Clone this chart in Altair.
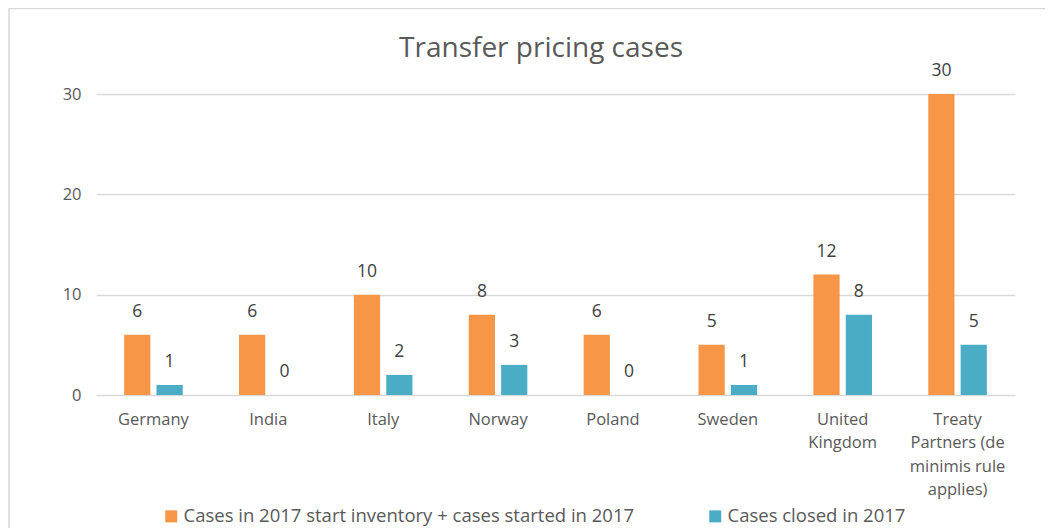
import altair as alt
import pandas as pd

countries = ["Germany", "India", "Italy", "Norway", "Poland", "Sweden",
             "United Kingdom", "Treaty Partners (de minimis rule applies)"]
series = ["Cases in 2017 start inventory + cases started in 2017", "Cases closed in 2017"]
started = [6, 6, 10, 8, 6, 5, 12, 30]
closed = [1, 0, 2, 3, 0, 1, 8, 5]
colors = ["#F79646", "#4BACC6"]
y_ticks = [0, 10, 20, 30]
title_text = "Transfer pricing cases"

rows = []
for c, s, cl in zip(countries, started, closed):
    rows.append({"country": c, "series": series[0], "value": s})
    rows.append({"country": c, "series": series[1], "value": cl})
df = pd.DataFrame(rows)

FONT = "Open Sans"
GREY = "#595959"

label_expr = ("datum.label == 'United Kingdom' ? ['United', 'Kingdom'] : "
              "datum.label == 'Treaty Partners (de minimis rule applies)' ? "
              "['Treaty', 'Partners (de', 'minimis rule', 'applies)'] : datum.label")

x_enc = alt.X("country:N", sort=countries,
              scale=alt.Scale(paddingInner=0.49, paddingOuter=0.245, round=False),
              axis=alt.Axis(title=None, labelAngle=0, labelExpr=label_expr,
                            labelFont=FONT, labelFontSize=16.5, labelColor=GREY,
                            labelPadding=16, labelLineHeight=23.5, ticks=False,
                            domain=False, labelLimit=200))
xo_enc = alt.XOffset("series:N", sort=series,
                     scale=alt.Scale(paddingInner=0.19, paddingOuter=0, round=False))
y_enc = alt.Y("value:Q", scale=alt.Scale(domain=[0, 30], nice=False),
              axis=alt.Axis(title=None, values=y_ticks, grid=True, gridColor="#D9D9D9",
                            gridWidth=1.5, domain=False, ticks=False, labelFont=FONT,
                            labelFontSize=16.5, labelColor=GREY, labelPadding=15))

bars = alt.Chart(df).mark_bar().encode(
    x=x_enc, xOffset=xo_enc, y=y_enc,
    color=alt.Color("series:N", sort=series,
                    scale=alt.Scale(domain=series, range=colors),
                    legend=alt.Legend(title=None, orient="none", direction="horizontal",
                                      legendX=66, legendY=413, columns=2,
                                      columnPadding=71, symbolType="square",
                                      symbolSize=144, symbolStrokeWidth=0,
                                      labelFont=FONT, labelFontSize=18.5,
                                      labelColor=GREY, labelLimit=700, labelOffset=3))
)

labels = alt.Chart(df).mark_text(font=FONT, fontSize=17.5, color="#404040",
                                 baseline="middle", dy=-23).encode(
    x=alt.X("country:N", sort=countries), xOffset=alt.XOffset("series:N", sort=series),
    y="value:Q", text="value:Q")

frame = alt.Chart(pd.DataFrame({"f": [0]})).mark_rect(
    fillOpacity=0, stroke="#D9D9D9", strokeWidth=1.5).encode(
    x=alt.value(-87), x2=alt.value(1100), y=alt.value(-85.5), y2=alt.value(700))

title = alt.Chart(pd.DataFrame({"t": [title_text]})).mark_text(
    font=FONT, fontSize=28, color=GREY, baseline="alphabetic", align="center").encode(
    x=alt.value(445), y=alt.value(-37), text="t:N")

chart = alt.layer(frame, bars, labels, title).properties(
    width=919, height=301,
    padding={"left": 88, "top": 86, "right": 30, "bottom": 133},
    autosize=alt.AutoSizeParams(type="none"),
).configure_view(stroke="transparent")

chart.save("out.html", embed_options={"renderer": "svg", "actions": False})
